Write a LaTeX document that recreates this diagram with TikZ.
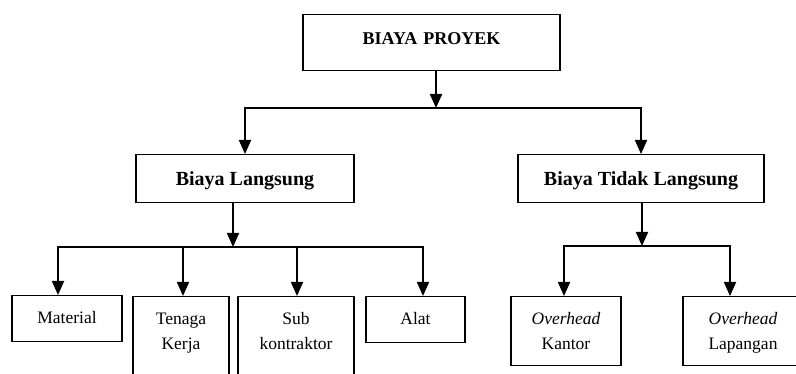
\documentclass[tikz,border=0pt]{standalone}
\usepackage{fontspec}
\setmainfont{Liberation Serif}
\usetikzlibrary{arrows.meta, calc, positioning}

\begin{document}
\begin{tikzpicture}[
		x=1pt, y=-1pt,
		every node/.style={
				draw,
				line width=1.4pt,
				inner sep=0pt,
				align=center
			},
		mid/.style={
				font=\fontsize{20}{24}\selectfont\bfseries,
				text height=31pt, % baseline below the top border
				text depth=17pt
			},
		leaf/.style={
				anchor=north,
				font=\fontsize{17.5}{25}\selectfont,
				text height=28pt, % first baseline below the top border
				text depth=18pt
			},
		arr/.style={-{Triangle[length=14pt, width=12pt]}, line width=1.8pt},
		bar/.style={line width=1.8pt, line cap=rect}
	]
	\useasboundingbox (0,0) rectangle (796,374);
	\clip (0,0) rectangle (796,374);

	% top level
	\node[font=\fontsize{18}{22}\selectfont\bfseries, text height=30pt, text depth=26pt, text width=257pt] (proyek) at (431.5,14) [anchor=north] {BIAYA PROYEK};

	% second level
	\node[mid, minimum width=218pt] (langsung) at (245,154) [anchor=north] {Biaya Langsung};
	\node[mid, minimum width=246pt] (tidak) at (641,154) [anchor=north] {Biaya Tidak Langsung};

	% third level
	\node[leaf, text width=110pt] (material) at (67,295) {Material};
	\node[leaf, text width=96pt, text depth=100pt] (tenaga) at (181,296) {Tenaga\\Kerja};
	\node[leaf, text width=116pt, text depth=100pt] (sub) at (296,296) {Sub\\kontraktor};
	\node[leaf, text width=99pt] (alat) at (415.5,296) {Alat};
	\node[leaf, text width=110pt, text depth=41pt] (kantor) at (566,296) {\textit{Overhead}\\Kantor};
	\node[leaf, text width=120pt, text depth=41pt] (lapangan) at (743,296) {\textit{Overhead}\\Lapangan};

	% connectors
	\coordinate (j1) at (436,108);
	\coordinate (j2) at (233,247);
	\coordinate (j3) at (642,246);

	\draw[arr] (proyek.south -| j1) -- (j1);
	\draw[bar] (j1 -| langsung.north) -- (j1 -| tidak.north);
	\draw[arr] (j1 -| langsung.north) -- (langsung.north);
	\draw[arr] (j1 -| tidak.north) -- (tidak.north);

	\draw[arr] (langsung.south -| j2) -- (j2);
	\draw[bar] ([xshift=-9pt]j2 -| material.north) -- ([xshift=7.5pt]j2 -| alat.north);
	\draw[arr] ([xshift=-9pt]j2 -| material.north) -- ([xshift=-9pt]material.north);
	\draw[arr] ([xshift=2pt]j2 -| tenaga.north) -- ([xshift=2pt]tenaga.north);
	\draw[arr] ([xshift=1pt]j2 -| sub.north) -- ([xshift=1pt]sub.north);
	\draw[arr] ([xshift=7.5pt]j2 -| alat.north) -- ([xshift=7.5pt]alat.north);

	\draw[arr] (tidak.south -| j3) -- (j3);
	\draw[bar] ([xshift=-2pt]j3 -| kantor.north) -- ([xshift=-13pt]j3 -| lapangan.north);
	\draw[arr] ([xshift=-2pt]j3 -| kantor.north) -- ([xshift=-2pt]kantor.north);
	\draw[arr] ([xshift=-13pt]j3 -| lapangan.north) -- ([xshift=-13pt]lapangan.north);
\end{tikzpicture}
\end{document}
